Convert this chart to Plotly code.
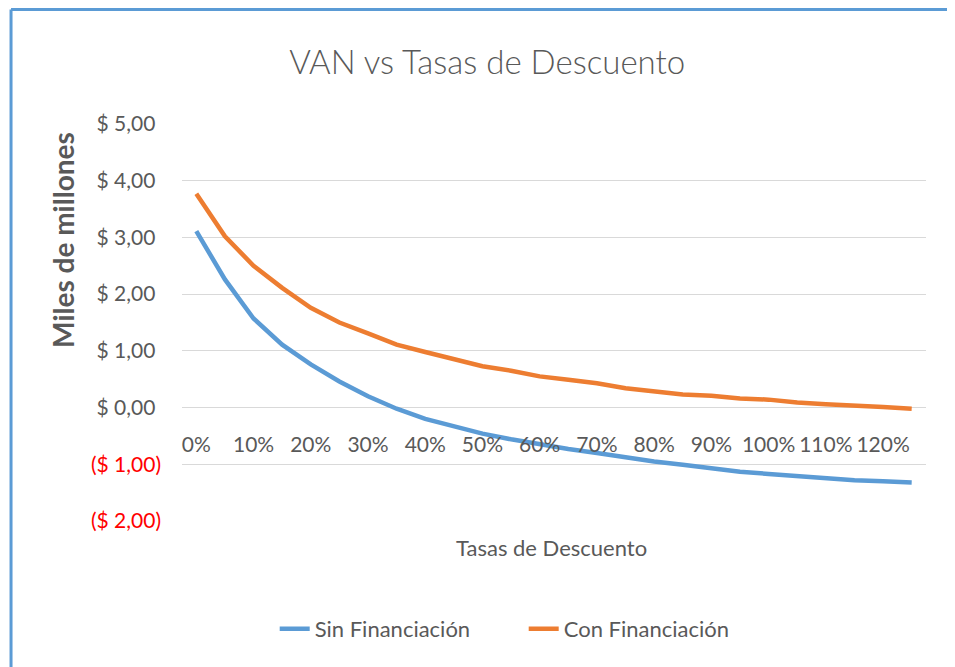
import plotly.graph_objects as go

# Tasas de descuento (%) y VAN en miles de millones
tasas = [0, 5, 10, 15, 20, 25, 30, 35, 40, 45, 50, 55, 60, 65, 70, 75, 80, 85, 90, 95, 100, 105, 110, 115, 120, 125]
sin_financiacion = [3.11, 2.26, 1.57, 1.11, 0.76, 0.46, 0.20, -0.02, -0.20, -0.33, -0.46, -0.56, -0.65, -0.73,
                    -0.80, -0.88, -0.95, -1.01, -1.07, -1.13, -1.17, -1.21, -1.25, -1.28, -1.30, -1.32]
con_financiacion = [3.77, 3.02, 2.50, 2.11, 1.76, 1.50, 1.31, 1.11, 0.98, 0.85, 0.73, 0.65, 0.55, 0.49,
                    0.43, 0.34, 0.28, 0.23, 0.21, 0.16, 0.14, 0.09, 0.06, 0.04, 0.01, -0.02]

x_ticks = [0, 10, 20, 30, 40, 50, 60, 70, 80, 90, 100, 110, 120]
x_labels = [f"{t}%" for t in x_ticks]
y_ticks = [-2, -1, 0, 1, 2, 3, 4, 5]
y_labels = ['<span style="color:#FF0000">($ 2,00)</span>', '<span style="color:#FF0000">($ 1,00)</span>',
            '$ 0,00<span style="color:white">)</span>', '$ 1,00<span style="color:white">)</span>',
            '$ 2,00<span style="color:white">)</span>', '$ 3,00<span style="color:white">)</span>',
            '$ 4,00<span style="color:white">)</span>', '$ 5,00<span style="color:white">)</span>']

FONT = "Lato"
GRAY = "#595959"

fig = go.Figure()
fig.add_trace(go.Scatter(x=tasas, y=sin_financiacion, mode="lines", name="Sin Financiación",
                         line=dict(color="#5B9BD5", width=4.5)))
fig.add_trace(go.Scatter(x=tasas, y=con_financiacion, mode="lines", name="Con Financiación",
                         line=dict(color="#ED7D31", width=4.5)))

# y = 0 en coordenadas de papel, para colocar el eje x sobre la linea del cero
y_min, y_max = -2, 5
zero_pos = (0 - y_min) / (y_max - y_min)

# la pagina deja 8px de margen, por eso el lienzo es algo menor que la ventana
fig.update_layout(
    width=947, height=659,
    margin=dict(l=174, r=29, t=116, b=146),
    paper_bgcolor="white", plot_bgcolor="white",
    font=dict(family=FONT, color=GRAY, size=21),
    title=dict(text="VAN vs Tasas de Descuento", x=0.506, y=0.918, xanchor="center", yanchor="middle",
               font=dict(size=33, color=GRAY, family=FONT, weight=300)),
    xaxis=dict(range=[-2.5, 127.5], tickvals=x_ticks, ticktext=x_labels, showgrid=False, zeroline=False,
               showline=False, anchor="free", position=zero_pos, ticks="", ticklabelstandoff=22,
               tickfont=dict(size=21, color=GRAY)),
    yaxis=dict(range=[y_min, y_max], tickvals=y_ticks, ticktext=y_labels, showgrid=True, gridcolor="#D9D9D9",
               gridwidth=1, zeroline=False, showline=False, ticks="", ticklabelstandoff=20,
               tickfont=dict(size=21, color=GRAY)),
    legend=dict(orientation="h", x=0.1246, y=-0.272, xanchor="left", yanchor="middle", entrywidth=204,
                font=dict(size=22, color=GRAY), bgcolor="rgba(0,0,0,0)"),
    showlegend=True,
)

fig.add_annotation(text="<b>Miles de millones</b>", xref="paper", yref="paper", x=-0.16, y=0.708,
                   xanchor="center", yanchor="middle", textangle=-90, showarrow=False,
                   font=dict(size=28, color=GRAY))
fig.add_annotation(text="Tasas de Descuento", xref="paper", yref="paper", x=0.497, y=-0.068,
                   xanchor="center", yanchor="middle", showarrow=False, font=dict(size=22, color=GRAY))

# marco azul superior e izquierdo
border = "#5B9BD5"
fig.add_shape(type="line", xref="paper", yref="paper", x0=-0.2298, x1=1.06, y0=1.2884, y1=1.2884,
              line=dict(color=border, width=3))
fig.add_shape(type="line", xref="paper", yref="paper", x0=-0.2298, x1=-0.2298, y0=-0.4, y1=1.2884,
              line=dict(color=border, width=3))

fig.write_html("out.html")
